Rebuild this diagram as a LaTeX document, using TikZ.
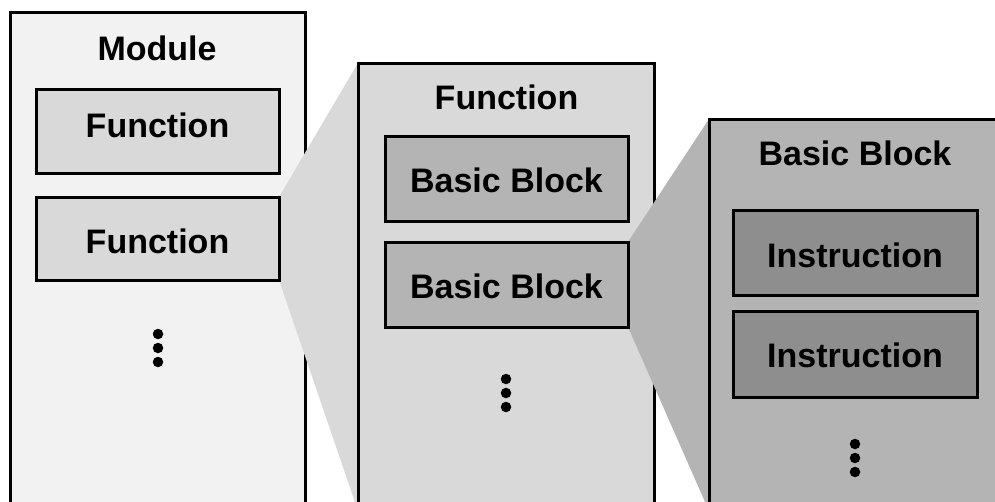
\documentclass[tikz,border=0pt]{standalone}
\usepackage{fontspec}
\setmainfont{Liberation Sans}
\pgfdeclarelayer{lmod}
\pgfdeclarelayer{ltrapa}
\pgfdeclarelayer{lfunc}
\pgfdeclarelayer{ltrapb}
\pgfsetlayers{lmod,ltrapa,lfunc,ltrapb,main}
\definecolor{cmod}{HTML}{F2F2F2}
\definecolor{cfun}{HTML}{D9D9D9}
\definecolor{cbb}{HTML}{B4B4B4}
\definecolor{cins}{HTML}{8E8E8E}
\tikzset{
  box/.style={draw=black, line width=3pt, rectangle, inner sep=0pt, outer sep=0pt},
  lbl/.style={anchor=base, inner sep=0pt, font=\fontsize{34}{40}\selectfont\bfseries},
  dotmark/.style={circle, fill=black, inner sep=0pt, minimum size=10.5pt},
}
\begin{document}
\begin{tikzpicture}[x=1pt, y=-1pt]
\useasboundingbox (0,0) rectangle (995,501);
\clip (0,0) rectangle (995,501);

% module container
\begin{pgfonlayer}{lmod}
\node[box, fill=cmod, minimum width=295pt, minimum height=500pt] (module) at (157.5,262) {};
\end{pgfonlayer}

% functions inside the module and the function container
\begin{pgfonlayer}{lfunc}
\node[box, fill=cfun, minimum width=243pt, minimum height=84pt] (f1) at (157.5,131) {};
\node[box, fill=cfun, minimum width=243pt, minimum height=83pt] (f2) at (157.5,238.5) {};
\node[box, fill=cfun, minimum width=296pt, minimum height=448pt] (func) at (506,287) {};
\end{pgfonlayer}

% zoom wedge: module function -> function
\begin{pgfonlayer}{ltrapa}
\fill[cfun] (f2.north east) -- (func.north west) -- (func.south west) -- (f2.south east) -- cycle;
\end{pgfonlayer}

% basic blocks inside the function and the basic block container
\node[box, fill=cbb, minimum width=243pt, minimum height=85pt] (b1) at (506.5,178.5) {};
\node[box, fill=cbb, minimum width=243pt, minimum height=85pt] (b2) at (506.5,284.5) {};
\node[box, fill=cbb, minimum width=302pt, minimum height=392pt] (bb) at (860,315) {};

% zoom wedge: basic block -> basic block container
\begin{pgfonlayer}{ltrapb}
\fill[cbb] (b2.north east) -- (bb.north west) -- (bb.south west) -- (b2.south east) -- cycle;
\end{pgfonlayer}

% instructions
\node[box, fill=cins, minimum width=244pt, minimum height=85pt] (i1) at (855,252.5) {};
\node[box, fill=cins, minimum width=244pt, minimum height=86pt] (i2) at (855,354) {};

% labels
\node[lbl] (tmod) at (157,60) {Module};
\node[lbl] (tf1) at (157.5,137) {Function};
\node[lbl] (tf2) at (157.5,253) {Function};
\node[lbl] (tfunc) at (506.5,109) {Function};
\node[lbl] (tb1) at (506.5,192) {Basic Block};
\node[lbl] (tb2) at (506.5,298) {Basic Block};
\node[lbl] (tbb) at (855,165) {Basic Block};
\node[lbl] (ti1) at (855,267) {Instruction};
\node[lbl] (ti2) at (855,367) {Instruction};

% continuation dots
\node[dotmark] (md1) at (158,334) {};
\node[dotmark] (md2) at (158,348) {};
\node[dotmark] (md3) at (158,362) {};
\node[dotmark] (fd1) at (506,379) {};
\node[dotmark] (fd2) at (506,393) {};
\node[dotmark] (fd3) at (506,407) {};
\node[dotmark] (bd1) at (855,444) {};
\node[dotmark] (bd2) at (855,458) {};
\node[dotmark] (bd3) at (855,472) {};
\end{tikzpicture}
\end{document}
